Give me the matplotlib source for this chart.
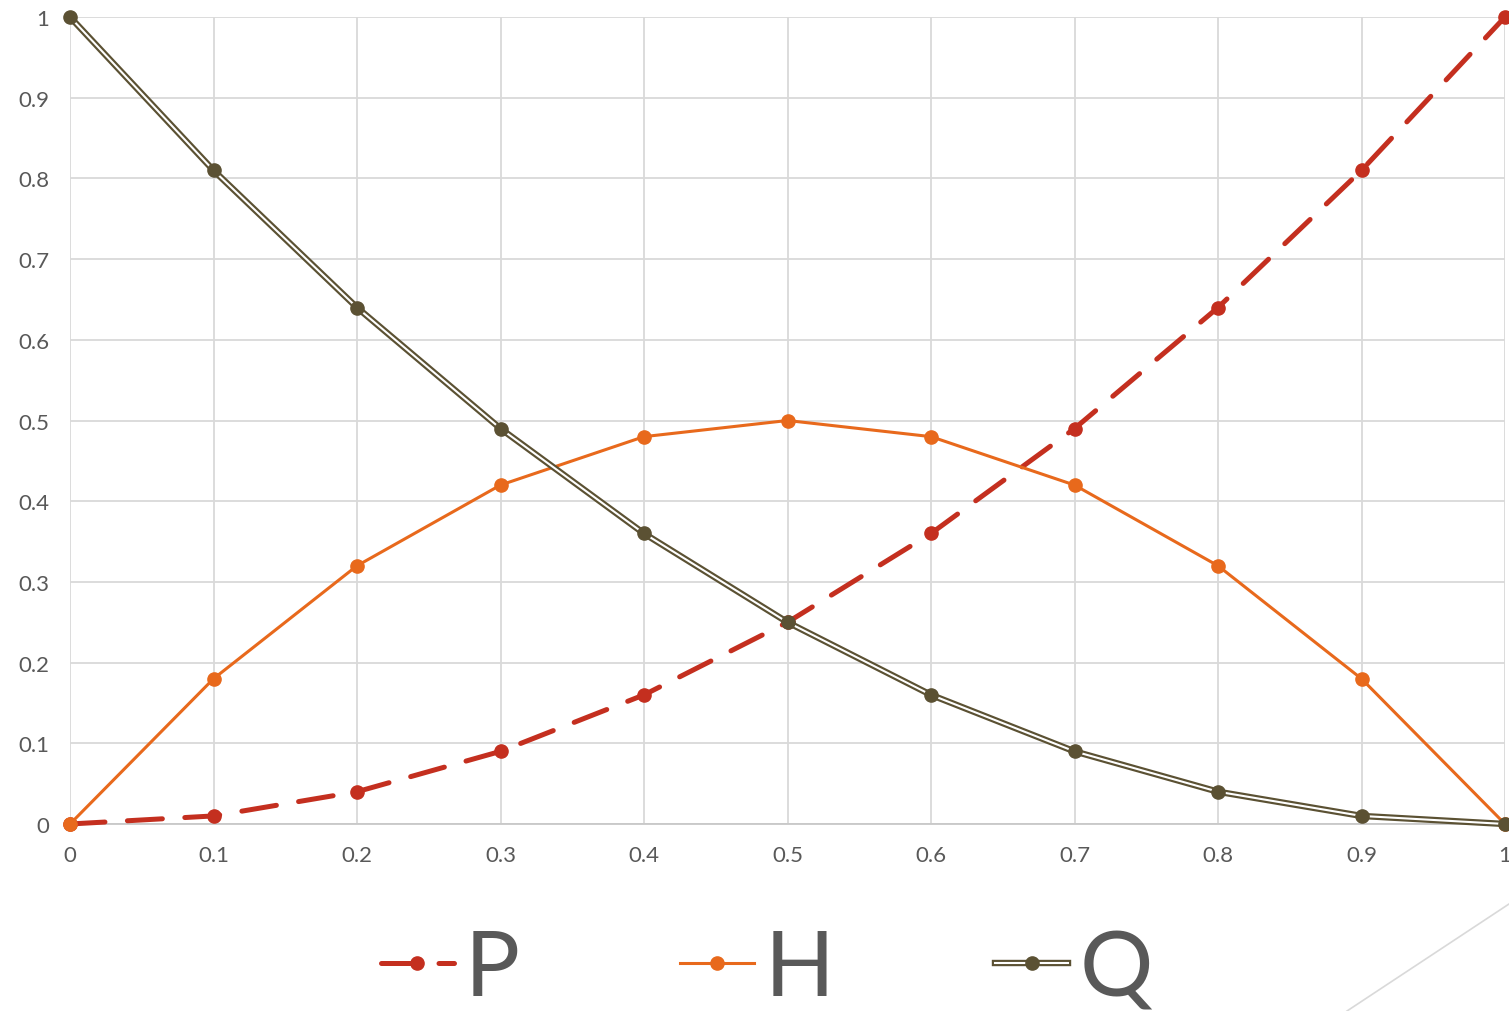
import matplotlib
matplotlib.use("Agg")
import matplotlib.pyplot as plt
from matplotlib.lines import Line2D

# allele frequency p and genotype frequencies
p_vals = [0, 0.1, 0.2, 0.3, 0.4, 0.5, 0.6, 0.7, 0.8, 0.9, 1]
P = [0, 0.01, 0.04, 0.09, 0.16, 0.25, 0.36, 0.49, 0.64, 0.81, 1]
H = [0, 0.18, 0.32, 0.42, 0.48, 0.50, 0.48, 0.42, 0.32, 0.18, 0]
Q = [1, 0.81, 0.64, 0.49, 0.36, 0.25, 0.16, 0.09, 0.04, 0.01, 0]
ticks = [0, 0.1, 0.2, 0.3, 0.4, 0.5, 0.6, 0.7, 0.8, 0.9, 1]
tick_labels = ["0", "0.1", "0.2", "0.3", "0.4", "0.5", "0.6", "0.7", "0.8", "0.9", "1"]

RED = "#C42F1F"
ORANGE = "#E8691C"
OLIVE = "#5B5133"
GRID = "#D9D9D9"
TXT = "#595959"

plt.rcParams["font.family"] = ["Lato", "DejaVu Sans"]

fig = plt.figure(figsize=(15.09, 10.12), dpi=100)
ax = fig.add_axes([70 / 1509, 187 / 1012, 1435 / 1509, 807 / 1012])

ax.plot(p_vals, P, color=RED, lw=3.6, dashes=(7, 4.5), dash_capstyle="round",
        marker="o", ms=9.5, zorder=3, clip_on=False)
ax.plot(p_vals, H, color=ORANGE, lw=2.2, marker="o", ms=9.5, zorder=4, clip_on=False)
# compound (double) line for Q
ax.plot(p_vals, Q, color=OLIVE, lw=4.6, zorder=5, clip_on=False)
ax.plot(p_vals, Q, color="white", lw=1.5, zorder=5, clip_on=False)
ax.plot(p_vals, Q, ls="none", color=OLIVE, marker="o", ms=9.5, zorder=6, clip_on=False)

ax.set_xlim(0, 1)
ax.set_ylim(0, 1)
ax.set_xticks(ticks)
ax.set_xticklabels(tick_labels)
ax.set_yticks(ticks)
ax.set_yticklabels(tick_labels)
ax.tick_params(length=0, labelsize=16, labelcolor=TXT)
ax.tick_params(axis="x", pad=15)
ax.tick_params(axis="y", pad=15)
ax.grid(True, color=GRID, lw=1.3)
ax.set_axisbelow(True)
for s in ["top", "right", "left"]:
    ax.spines[s].set_visible(False)
ax.spines["bottom"].set_color("#C8C8C8")
ax.spines["bottom"].set_linewidth(1.3)

# legend handles
hP = Line2D([], [], color=RED, lw=3.6, dashes=(7, 4.5), dash_capstyle="round", marker="o", ms=9.5)
hH = Line2D([], [], color=ORANGE, lw=2.2, marker="o", ms=9.5)
hQ = (Line2D([], [], color=OLIVE, lw=4.6),
      Line2D([], [], color="white", lw=1.5),
      Line2D([], [], ls="none", color=OLIVE, marker="o", ms=9.5))
leg = fig.legend([hP, hH, hQ], ["P", "H", "Q"], loc="center", bbox_to_anchor=(0.508, 0.041),
                 ncol=3, frameon=False, fontsize=66, handlelength=0.8, handletextpad=0.12,
                 columnspacing=1.75, labelcolor=TXT)

# decorative corner line
fig.add_artist(Line2D([1347 / 1509, 1.0], [0, 107 / 1012], color=GRID, lw=1.2,
                      transform=fig.transFigure))

fig.savefig("out.png", dpi=100)
